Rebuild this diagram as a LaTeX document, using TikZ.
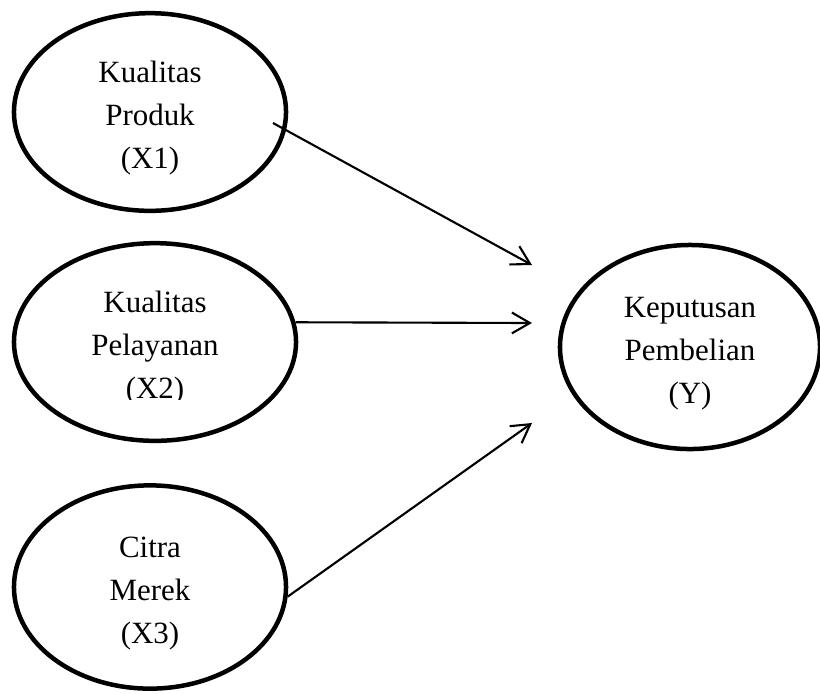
\documentclass[tikz,border=0pt]{standalone}
\usepackage{fontspec}
\setmainfont{Liberation Serif}
\usetikzlibrary{shapes.geometric, arrows.meta}

\newcommand{\vlabel}[3]{\raisebox{0pt}[\dimexpr\height+7pt][\depth]{\begin{tabular}{@{}c@{}}#1\\#2\\#3\end{tabular}}}

\tikzset{
    var/.style={ellipse, draw, line width=3.2pt, inner sep=0pt,
        font=\fontsize{22}{30.8}\selectfont},
    link/.style={line width=1.5pt, -{Straight Barb[length=0.45cm, width=0.52cm]}},
}

\begin{document}
\begin{tikzpicture}[x=0.025cm, y=-0.025cm]
                \useasboundingbox (0,0) rectangle (820,693);
                \node [var, minimum width=6.8cm, minimum height=4.93cm] (x1) at (150,112) {\vlabel{Kualitas}{Produk}{(X1)}};
                \node [var, minimum width=7.05cm, minimum height=4.88cm] (x2) at (155,342) {\vlabel{Kualitas}{Pelayanan}{(X2)}};
                \node [var, minimum width=6.8cm, minimum height=5.08cm] (x3) at (150,587) {\vlabel{Citra}{Merek}{(X3)}};
                \node [var, minimum width=6.5cm, minimum height=5.1cm] (y) at (690,347) {\vlabel{Keputusan}{Pembelian}{(Y)}};
                % text of (X2) is cut off at the bottom
                \fill [white] (115,400) rectangle (195,414);
                \coordinate (s1) at (273,123);
                \coordinate (t1) at (532,265);
                \coordinate (t2) at (532,323);
                \coordinate (t3) at (532,423);
                \draw [link] (s1) -- (t1);
                \draw [link] (x2.8) -- (t2);
                \draw [link] (x3.-4) -- (t3);
            \end{tikzpicture}
\end{document}
